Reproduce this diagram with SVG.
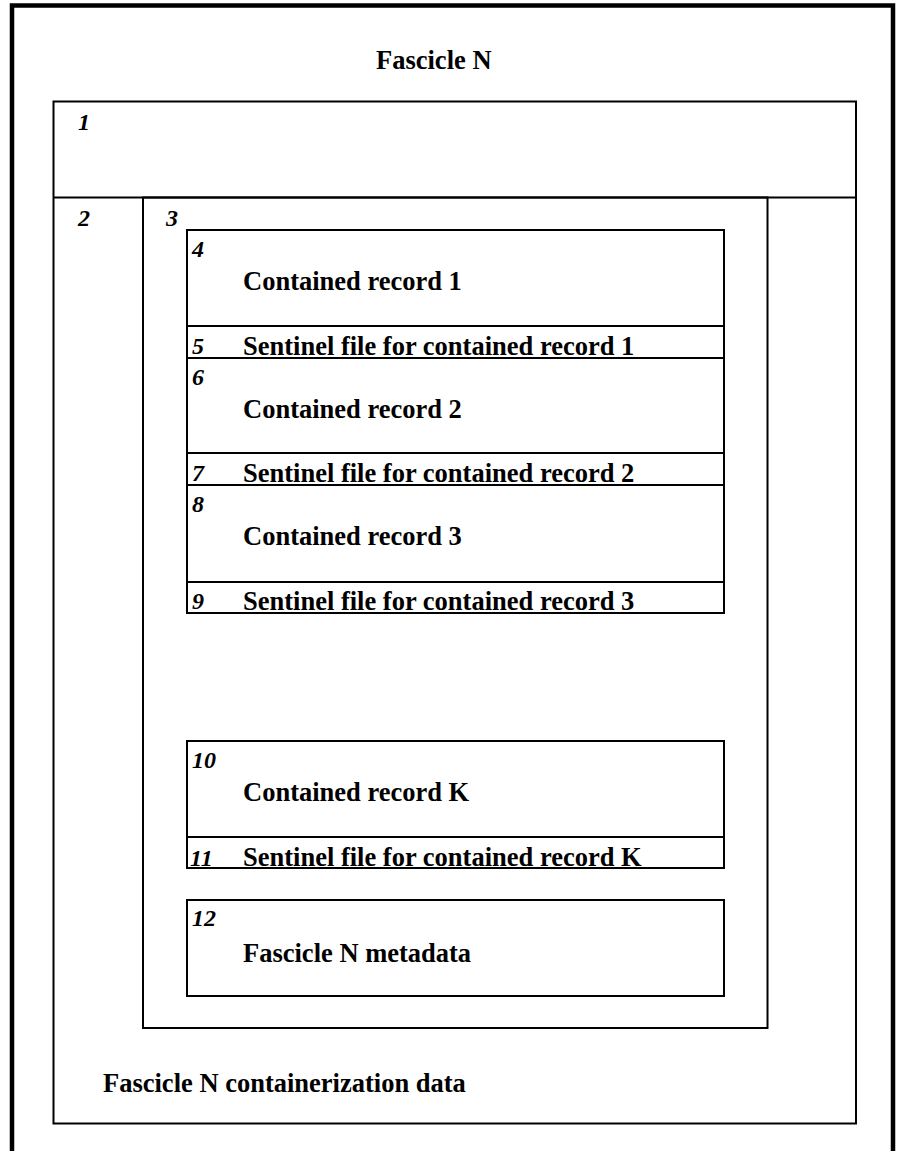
<svg xmlns="http://www.w3.org/2000/svg" width="901" height="1151" viewBox="0 0 901 1151">
  <style>
    .frame { fill: none; stroke: #000; stroke-width: 4.5; }
    .box { fill: none; stroke: #000; stroke-width: 2; }
    .rule { stroke: #000; stroke-width: 2; }
    .title { font-family: "Liberation Serif", "Times New Roman", serif; font-weight: bold; font-size: 26.5px; fill: #000; }
    .num { font-family: "Liberation Serif", "Times New Roman", serif; font-weight: bold; font-style: italic; font-size: 24px; fill: #000; }
  </style>
  <rect width="901" height="1151" fill="#fff"/>

  <!-- outer fascicle frame (open at the bottom) -->
  <g id="fascicle">
    <path class="frame" d="M12,1151 V5.5 H893 V1151"/>
    <text class="title" x="376" y="69">Fascicle N</text>
  </g>

  <!-- containerization area: header band 1, left column 2 -->
  <g id="containerization">
    <rect class="box" x="53.5" y="101.5" width="802.5" height="1022"/>
    <line class="rule" x1="53.5" y1="197.5" x2="856" y2="197.5"/>
    <text class="num" x="78" y="130">1</text>
    <text class="num" x="78" y="226">2</text>
    <text class="title" x="103" y="1092">Fascicle N containerization data</text>
  </g>

  <!-- payload area 3 -->
  <g id="payload">
    <rect class="box" x="143" y="197.5" width="624.5" height="830.5"/>
    <text class="num" x="166" y="226">3</text>
  </g>

  <g id="record-1">
    <rect class="box" x="187" y="230" width="537" height="96"/>
    <text class="num" x="192" y="257">4</text>
    <text class="title" x="243" y="290">Contained record 1</text>
  </g>
  <g id="sentinel-1">
    <rect class="box" x="187" y="326" width="537" height="32"/>
    <text class="num" x="192" y="354">5</text>
    <text class="title" x="243" y="355">Sentinel file for contained record 1</text>
  </g>

  <g id="record-2">
    <rect class="box" x="187" y="358" width="537" height="95"/>
    <text class="num" x="192" y="385">6</text>
    <text class="title" x="243" y="418">Contained record 2</text>
  </g>
  <g id="sentinel-2">
    <rect class="box" x="187" y="453" width="537" height="32"/>
    <text class="num" x="192" y="481">7</text>
    <text class="title" x="243" y="482">Sentinel file for contained record 2</text>
  </g>

  <g id="record-3">
    <rect class="box" x="187" y="485" width="537" height="97"/>
    <text class="num" x="192" y="512">8</text>
    <text class="title" x="243" y="545">Contained record 3</text>
  </g>
  <g id="sentinel-3">
    <rect class="box" x="187" y="582" width="537" height="31"/>
    <text class="num" x="192" y="609">9</text>
    <text class="title" x="243" y="610">Sentinel file for contained record 3</text>
  </g>

  <g id="record-k">
    <rect class="box" x="187" y="741" width="537" height="96"/>
    <text class="num" x="192" y="768">10</text>
    <text class="title" x="243" y="801">Contained record K</text>
  </g>
  <g id="sentinel-k">
    <rect class="box" x="187" y="837" width="537" height="31"/>
    <text class="num" x="190" y="866">11</text>
    <text class="title" x="243" y="866">Sentinel file for contained record K</text>
  </g>

  <g id="metadata">
    <rect class="box" x="187" y="900" width="537" height="96"/>
    <text class="num" x="192" y="926">12</text>
    <text class="title" x="243" y="962">Fascicle N metadata</text>
  </g>

  <!-- no connectors in this layout -->
  <g id="connectors"/>
</svg>
